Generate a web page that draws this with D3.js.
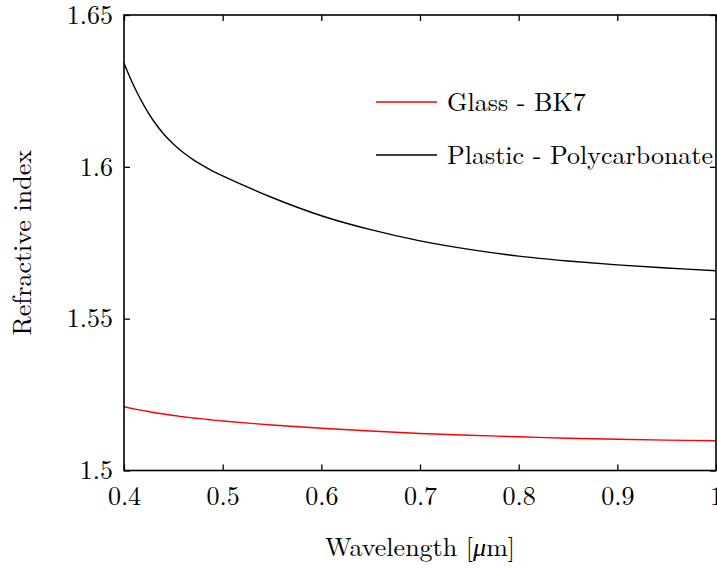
<!DOCTYPE html>
<html>
<head>
<meta charset="utf-8">
<script src="https://cdn.jsdelivr.net/npm/d3@7"></script>
<style>
  body { margin: 0; background: #fff; }
</style>
</head>
<body>
<script>
// ! Data
const wavelength = [0.4, 0.41, 0.42, 0.43, 0.44, 0.45, 0.46, 0.47, 0.48, 0.49, 0.5, 0.55, 0.6, 0.65, 0.7, 0.75, 0.8, 0.85, 0.9, 0.95, 1.0];
const polycarbonate = [1.6341, 1.6266, 1.6203, 1.6151, 1.6109, 1.6075, 1.6047, 1.6024, 1.6004, 1.5986, 1.5970, 1.5899, 1.5839, 1.5793, 1.5756, 1.5728, 1.5706, 1.5690, 1.5677, 1.5667, 1.5658];
const bk7 = [1.5210, 1.5203, 1.5197, 1.5191, 1.5186, 1.5181, 1.5177, 1.5173, 1.5170, 1.5166, 1.5163, 1.5150, 1.5139, 1.5130, 1.5122, 1.5116, 1.5111, 1.5106, 1.5103, 1.5100, 1.5098];
const xTicks = [0.4, 0.5, 0.6, 0.7, 0.8, 0.9, 1];
const yTicks = [1.5, 1.55, 1.6, 1.65];
const seriesNames = ['Glass - BK7', 'Plastic - Polycarbonate'];
const seriesColors = ['#ff0000', '#000000'];

const FONT = '"Latin Modern Roman", "CMU Serif", "Liberation Serif", serif';

// * Size of svg
const width = 717;
const height = 570;
const margin = {
  top: 15, right: 1, bottom: 99.5, left: 124,
};
const innerWidth = width - margin.left - margin.right;
const innerHeight = height - margin.top - margin.bottom;

const svg = d3
  .select('body')
  .append('svg')
  .attr('width', width)
  .attr('height', height);

const plot = svg
  .append('g')
  .attr('transform', `translate(${margin.left}, ${margin.top})`);

const x = d3.scaleLinear().domain([0.4, 1]).range([0, innerWidth]);
const y = d3.scaleLinear().domain([1.5, 1.65]).range([innerHeight, 0]);
const fmt = d3.format('~g');

// ! Axes, ticks inside the frame
plot.append('g')
  .attr('transform', `translate(0, ${innerHeight})`)
  .call(d3.axisBottom(x).tickValues(xTicks).tickSize(-6).tickPadding(16).tickFormat(fmt));
plot.append('g')
  .call(d3.axisTop(x).tickValues(xTicks).tickSize(-6).tickFormat(''));
plot.append('g')
  .call(d3.axisLeft(y).tickValues(yTicks).tickSize(-6).tickPadding(11).tickFormat(fmt));
plot.append('g')
  .attr('transform', `translate(${innerWidth}, 0)`)
  .call(d3.axisRight(y).tickValues(yTicks).tickSize(-6).tickFormat(''));
plot.selectAll('.domain').remove();
plot.selectAll('.tick line').attr('stroke', '#000').attr('stroke-width', 1.3);
plot.selectAll('.tick text').style('font-size', '26px').attr('fill', '#000');

// * Curves
const series = [bk7, polycarbonate];
const line = d3.line()
  .x((d, i) => x(wavelength[i]))
  .y((d) => y(d))
  .curve(d3.curveCatmullRom.alpha(0.5));

series.forEach((s, k) => {
  plot.append('path')
    .datum(s)
    .attr('d', line)
    .attr('fill', 'none')
    .attr('stroke', seriesColors[k])
    .attr('stroke-width', 1.4);
});

// ! Legend
const legend = svg.append('g').attr('transform', 'translate(376, 102)');
seriesNames.forEach((name, k) => {
  const row = legend.append('g').attr('transform', `translate(0, ${k * 53})`);
  row.append('line')
    .attr('x1', 0).attr('x2', 61)
    .attr('y1', 0).attr('y2', 0)
    .attr('stroke', seriesColors[k])
    .attr('stroke-width', 1.4);
  row.append('text')
    .attr('x', 71)
    .attr('y', 9)
    .style('font-size', '26px')
    .text(name);
});

// * Frame on top
plot.append('rect')
  .attr('width', innerWidth)
  .attr('height', innerHeight)
  .attr('fill', 'none')
  .attr('stroke', '#000')
  .attr('stroke-width', 1.6);

// ! Axis titles
const xTitle = svg.append('text')
  .attr('x', margin.left + innerWidth / 2)
  .attr('y', 556)
  .attr('text-anchor', 'middle')
  .style('font-size', '26px');
xTitle.append('tspan').text('Wavelength [');
xTitle.append('tspan').style('font-style', 'italic').text('μ');
xTitle.append('tspan').text('m]');
svg.append('text')
  .attr('transform', `translate(31, ${margin.top + innerHeight / 2}) rotate(-90)`)
  .attr('text-anchor', 'middle')
  .style('font-size', '26px')
  .text('Refractive index');

// every text in the same serif face
svg.selectAll('text').style('font-family', FONT).attr('fill', '#000');
</script>
</body>
</html>
